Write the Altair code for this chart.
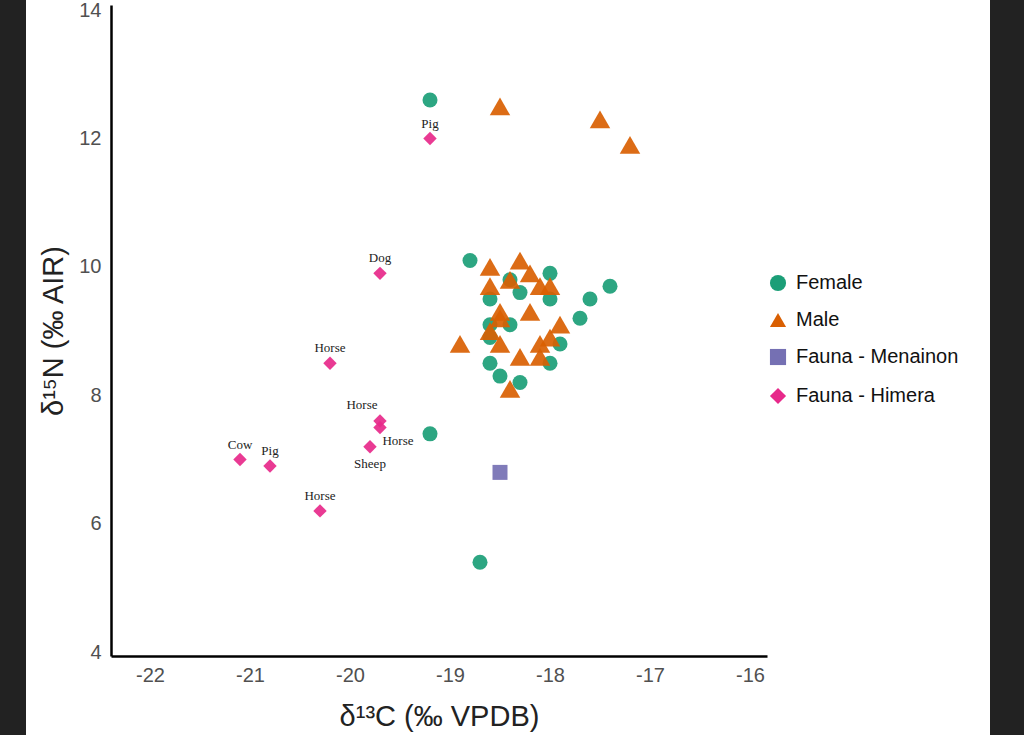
import altair as alt
import pandas as pd

# Stable isotope values (d13C in permil VPDB, d15N in permil AIR)
female_d13c = [-19.2, -18.8, -18.0, -18.3, -18.6, -18.0, -17.6, -17.4, -17.7, -18.6,
               -18.4, -18.6, -17.9, -18.6, -18.0, -18.5, -18.3, -19.2, -18.7, -18.4]
female_d15n = [12.6, 10.1, 9.9, 9.6, 9.5, 9.5, 9.5, 9.7, 9.2, 9.1,
               9.1, 8.9, 8.8, 8.5, 8.5, 8.3, 8.2, 7.4, 5.4, 9.8]

male_d13c = [-18.5, -17.5, -17.2, -18.6, -18.3, -18.2, -18.4, -18.6, -18.1, -18.0,
             -18.5, -18.2, -18.5, -17.9, -18.6, -18.0, -18.9, -18.5, -18.1, -18.3,
             -18.1, -18.4]
male_d15n = [12.5, 12.3, 11.9, 10.0, 10.1, 9.9, 9.8, 9.7, 9.7, 9.7,
             9.3, 9.3, 9.2, 9.1, 9.0, 8.9, 8.8, 8.8, 8.8, 8.6,
             8.6, 8.1]

menainon_d13c = [-18.5]
menainon_d15n = [6.8]

himera_d13c = [-19.2, -19.7, -20.2, -19.7, -19.7, -19.8, -21.1, -20.8, -20.3]
himera_d15n = [12.0, 9.9, 8.5, 7.6, 7.5, 7.2, 7.0, 6.9, 6.2]
himera_species = ["Pig", "Dog", "Horse", "Horse", "Horse", "Sheep", "Cow", "Pig", "Horse"]

groups = ["Female", "Male", "Fauna - Menainon", "Fauna - Himera"]
colors = ["#1b9e77", "#d95f02", "#7570b3", "#e7298a"]
shapes = ["circle", "triangle-up", "square", "diamond"]

frames = []
for name, xs, ys in [
    ("Female", female_d13c, female_d15n),
    ("Male", male_d13c, male_d15n),
    ("Fauna - Menainon", menainon_d13c, menainon_d15n),
    ("Fauna - Himera", himera_d13c, himera_d15n),
]:
    frames.append(pd.DataFrame({"d13c": xs, "d15n": ys, "group": name}))
points = pd.concat(frames, ignore_index=True)

labels = pd.DataFrame({"d13c": himera_d13c, "d15n": himera_d15n, "species": himera_species})
# where each species label sits relative to its marker
label_place = ["above", "above", "above", "upleft", "downright", "below", "above", "above", "above"]
labels["place"] = label_place
nudges = {"above": (0, -15), "below": (0, 17), "upleft": (-18, -16), "downright": (18, 14)}

W, H = 656, 651
x_scale = alt.Scale(domain=[-22.39, -15.83], nice=False, zero=False)
y_scale = alt.Scale(domain=[3.94, 14.08], nice=False, zero=False)

axis_common = dict(
    grid=False, ticks=False, domainColor="#000000", domainWidth=2.5,
    labelFont="Liberation Sans", labelFontSize=20, labelColor="#505050",
    titleFont="Liberation Sans", titleFontSize=29, titleFontWeight="normal",
    titleColor="#222222", labelFlush=False, zindex=1,
    labelExpr="'' + datum.value",
)

x_enc = alt.X(
    "d13c:Q", scale=x_scale,
    axis=alt.Axis(values=[-22, -21, -20, -19, -18, -17, -16], title="δ¹³C (‰ VPDB)",
                  labelPadding=9, titlePadding=17, **axis_common),
)
y_enc = alt.Y(
    "d15n:Q", scale=y_scale,
    axis=alt.Axis(values=[4, 6, 8, 10, 12, 14], title="δ¹⁵N (‰ AIR)",
                  labelPadding=10, titlePadding=10, **axis_common),
)

# dark side strips framing the figure
strip_left = alt.Chart(pd.DataFrame({"s": [0]})).mark_rect(color="#222222").encode(
    x=alt.value(-111), x2=alt.value(-85), y=alt.value(-5), y2=alt.value(730)
)
strip_right = alt.Chart(pd.DataFrame({"s": [0]})).mark_rect(color="#222222").encode(
    x=alt.value(879), x2=alt.value(913), y=alt.value(-5), y2=alt.value(730)
)

# carries the shared colour/shape legend and the axes
legend_layer = alt.Chart(points).transform_filter("false").mark_point(filled=True, opacity=1).encode(
    x=x_enc,
    y=y_enc,
    color=alt.Color(
        "group:N",
        scale=alt.Scale(domain=groups, range=colors),
        legend=alt.Legend(
            title=None, orient="none", legendX=657, legendY=268,
            labelFont="Liberation Sans", labelFontSize=20, labelColor="#111111",
            symbolSize=260, rowPadding=15, labelOffset=8, symbolOpacity=1,
            labelLimit=300,
        ),
    ),
    shape=alt.Shape("group:N", scale=alt.Scale(domain=groups, range=shapes)),
)


def series(name, shape, color, size):
    return alt.Chart(points).transform_filter(alt.datum.group == name).mark_point(
        filled=True, opacity=0.92, size=size, shape=shape, color=color
    ).encode(x="d13c:Q", y="d15n:Q")


female_layer = series("Female", "circle", "#1b9e77", 225)
male_layer = series("Male", "triangle-up", "#d95f02", 420)
fauna_m = series("Fauna - Menainon", "square", "#7570b3", 225)
fauna_h = series("Fauna - Himera", "diamond", "#e7298a", 180)

text_layers = []
for place, (dx, dy) in nudges.items():
    text_layers.append(
        alt.Chart(labels).transform_filter(alt.datum.place == place).mark_text(
            font="Liberation Serif", fontSize=13, color="#222222", dx=dx, dy=dy,
            baseline="middle", align="center",
        ).encode(x="d13c:Q", y="d15n:Q", text="species:N")
    )

chart = alt.layer(
    strip_left, strip_right, legend_layer, female_layer, male_layer, fauna_m, fauna_h, *text_layers
).properties(
    width=W, height=H, autosize="none",
    padding={"left": 111, "top": 5, "right": 257, "bottom": 79},
    background="#ffffff",
).configure_view(stroke=None)

chart.save("out.html", embed_options={"renderer": "svg", "actions": False})
